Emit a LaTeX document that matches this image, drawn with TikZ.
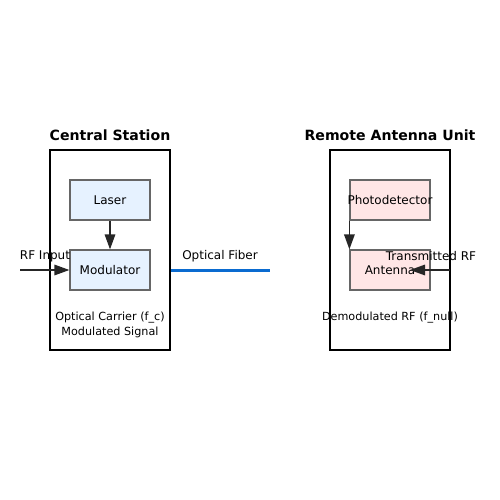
\documentclass[tikz,border=0pt]{standalone}
\usepackage{fontspec}
\setmainfont{DejaVu Sans}
\usetikzlibrary{arrows.meta}
\definecolor{csfill}{HTML}{E6F2FF}
\definecolor{rufill}{HTML}{FFE6E6}
\definecolor{edgegray}{HTML}{666666}
\definecolor{fiber}{HTML}{0A6BD0}
\begin{document}
\begin{tikzpicture}[x=1pt,y=-1pt,
  unitbox/.style={draw=black,line width=2pt},
  blockbox/.style={draw=edgegray,line width=1.2pt,minimum width=80pt,minimum height=40pt,inner sep=0pt,font=\fontsize{12}{14}\selectfont},
  title/.style={font=\fontsize{14.1}{16}\bfseries\selectfont},
  lbl/.style={font=\fontsize{12}{14}\selectfont,inner sep=0pt},
  small/.style={font=\fontsize{11.2}{15}\selectfont,inner sep=0pt,align=center},
  arr/.style={draw=black!85,line width=1.6pt,-{Triangle[length=15pt,width=10.5pt]}}
]
\useasboundingbox (0,0) rectangle (500,500);
% Central station
\node[unitbox,minimum width=120pt,minimum height=200pt,inner sep=0pt] (cs) at (110,250) {};
\node[title] (cst) at (110,135) {Central Station};
\node[blockbox,fill=csfill] (laser) at (110,200) {Laser};
\node[blockbox,fill=csfill] (mod) at (110,270) {Modulator};
\node[small] (cstxt) at (110,325) {Optical Carrier (f\_c)\\Modulated Signal};
\draw[arr] (laser.south) -- (mod.north);
\coordinate (rfin) at (20,270);
\draw[arr] (rfin) -- (mod.west);
\node[lbl] (rfinl) at (45,256.5) {RF Input};
% fiber
\coordinate (fend) at (270,270);
\draw[fiber,line width=3pt] (cs.east |- mod) -- (fend);
\node[lbl] (fibl) at (220,256.5) {Optical Fiber};
% Remote antenna unit
\node[unitbox,minimum width=120pt,minimum height=200pt,inner sep=0pt] (ru) at (390,250) {};
\node[title] (rut) at (390,135) {Remote Antenna Unit};
\node[blockbox,fill=rufill] (pd) at (390,200) {\makebox[0pt]{Photodetector}};
\node[blockbox,fill=rufill] (ant) at (390,270) {Antenna};
\node[small] (rutxt) at (390,317.5) {Demodulated RF (f\_null)};
\draw[arr] (pd.south west) -- (ant.north west);
\coordinate (txrf) at (450,270);
\coordinate (txtip) at (410,270);
\draw[arr] (txrf) -- (txtip);
\node[lbl] (txl) at (431,256.5) {Transmitted RF};
\end{tikzpicture}
\end{document}
